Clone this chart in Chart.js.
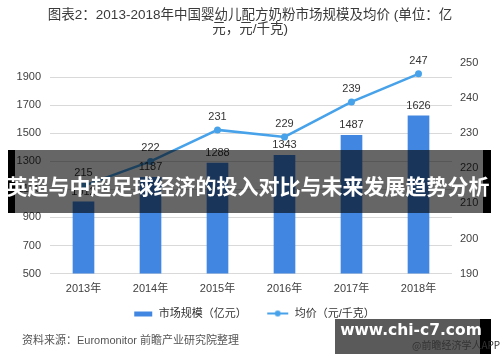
<!DOCTYPE html>
<html>
<head>
<meta charset="utf-8">
<script src="https://cdn.jsdelivr.net/npm/chart.js@4"></script>
<style>
  html, body { margin: 0; padding: 0; background: #fff; }
  #wrap { width: 500px; height: 362px; position: relative; }
</style>
</head>
<body>
<div id="wrap"><canvas id="chart"></canvas></div>
<script>
const YEARS = ['2013年', '2014年', '2015年', '2016年', '2017年', '2018年'];
const MARKET_SIZE = [1012, 1187, 1288, 1343, 1487, 1626];   // 亿元
const AVG_PRICE = [215, 222, 231, 229, 239, 247];           // 元/千克
const LEFT_TICKS = [500, 700, 900, 1100, 1300, 1500, 1700, 1900];
const SERIES_NAMES = ['市场规模（亿元）', '均价（元/千克）'];

const FONT = "'Liberation Sans', 'Noto Sans CJK SC', sans-serif";
const BAR_COLOR = '#4186e0';
const LINE_COLOR = '#47a2ea';

// small images for the legend markers
const makeMarker = (drawFn) => {
  const c = document.createElement('canvas');
  c.width = 28;
  c.height = 10;
  drawFn(c.getContext('2d'));
  return c;
};
const barMarker = makeMarker(ctx => {
  ctx.fillStyle = BAR_COLOR;
  ctx.fillRect(9, 3, 18, 5);
});
const lineMarker = makeMarker(ctx => {
  ctx.strokeStyle = LINE_COLOR;
  ctx.lineWidth = 2;
  ctx.beginPath();
  ctx.moveTo(6, 5);
  ctx.lineTo(27, 5);
  ctx.stroke();
  ctx.fillStyle = LINE_COLOR;
  ctx.beginPath();
  ctx.arc(16.5, 5, 3, 0, Math.PI * 2);
  ctx.fill();
});

// value labels above bars and points
const valueLabels = {
  id: 'valueLabels',
  afterDatasetsDraw(chart) {
    const ctx = chart.ctx;
    ctx.save();
    ctx.font = `11px ${FONT}`;
    ctx.fillStyle = '#333';
    ctx.textAlign = 'center';
    ctx.textBaseline = 'middle';
    chart.data.datasets.forEach((ds, i) => {
      const meta = chart.getDatasetMeta(i);
      const offset = ds.type === 'line' ? 13 : 10;
      meta.data.forEach((el, j) => {
        ctx.fillText(String(ds.data[j]), el.x, el.y - offset);
      });
    });
    ctx.restore();
  }
};

// banner, source note and site watermark over the picture
const overlay = {
  id: 'overlay',
  afterDraw(chart) {
    const ctx = chart.ctx;
    ctx.save();

    ctx.font = `11px ${FONT}`;
    ctx.fillStyle = '#555';
    ctx.textAlign = 'left';
    ctx.textBaseline = 'middle';
    ctx.fillText('资料来源：Euromonitor 前瞻产业研究院整理', 22, 341);

    // banner
    ctx.fillStyle = 'rgba(0,0,0,0.6)';
    ctx.fillRect(15, 150, 468, 63);
    ctx.fillStyle = '#000';
    ctx.fillRect(8, 150, 7, 63);
    ctx.fillRect(483, 150, 8, 63);
    ctx.font = `bold 21px 'Noto Sans CJK SC', sans-serif`;
    ctx.fillStyle = '#fff';
    ctx.textAlign = 'center';
    ctx.fillText('英超与中超足球经济的投入对比与未来发展趋势分析', 248, 186);

    // watermark box
    ctx.fillStyle = '#5a5a5a';
    ctx.fillRect(335, 319, 146, 35);
    ctx.fillStyle = '#000';
    ctx.fillRect(480, 319, 11, 35);
    ctx.font = `10px 'Noto Sans CJK SC', sans-serif`;
    ctx.fillStyle = '#333';
    ctx.textAlign = 'left';
    ctx.fillText('@前瞻经济学人APP', 412, 345);
    ctx.font = `bold 15.5px 'DejaVu Sans', sans-serif`;
    ctx.fillStyle = '#fff';
    ctx.textAlign = 'center';
    ctx.fillText('www.chi-c7.com', 411, 331);

    ctx.restore();
  }
};

new Chart(document.getElementById('chart'), {
  data: {
    labels: YEARS,
    datasets: [
      {
        type: 'bar',
        label: SERIES_NAMES[0],
        data: MARKET_SIZE,
        yAxisID: 'yLeft',
        backgroundColor: BAR_COLOR,
        barThickness: 21,
        order: 2
      },
      {
        type: 'line',
        label: SERIES_NAMES[1],
        data: AVG_PRICE,
        yAxisID: 'yRight',
        borderColor: LINE_COLOR,
        backgroundColor: LINE_COLOR,
        borderWidth: 2.5,
        pointRadius: 3.5,
        pointBackgroundColor: LINE_COLOR,
        pointBorderWidth: 0,
        tension: 0,
        order: 1
      }
    ]
  },
  options: {
    responsive: true,
    maintainAspectRatio: false,
    animation: false,
    layout: { padding: { top: 2, left: 0, right: 0, bottom: 33 } },
    plugins: {
      title: {
        display: true,
        text: ['图表2：2013-2018年中国婴幼儿配方奶粉市场规模及均价 (单位：亿', '元，元/千克)'],
        color: '#3a3a3a',
        font: { family: FONT, size: 13.5, weight: 'normal', lineHeight: 1.05 },
        padding: { top: 6, bottom: 27 }
      },
      legend: {
        position: 'bottom',
        labels: {
          usePointStyle: true,
          pointStyleWidth: 28,
          padding: 14.5,
          color: '#333',
          font: { family: FONT, size: 11 },
          generateLabels: () => [
            { text: SERIES_NAMES[0], pointStyle: barMarker, datasetIndex: 0, hidden: false, fontColor: '#333' },
            { text: SERIES_NAMES[1], pointStyle: lineMarker, datasetIndex: 1, hidden: false, fontColor: '#333' }
          ]
        }
      },
      tooltip: { enabled: false }
    },
    scales: {
      x: {
        grid: { display: false, drawTicks: false },
        border: { display: false },
        ticks: { color: '#404040', font: { family: FONT, size: 11 }, padding: 9 },
        afterFit: scale => { scale.height = 20; }
      },
      yLeft: {
        position: 'left',
        min: 500,
        max: 2000,
        grid: { color: '#d9d9d9', drawTicks: false },
        border: { display: false },
        ticks: { color: '#404040', font: { family: FONT, size: 11 }, padding: 9, callback: v => String(v) },
        afterBuildTicks: scale => { scale.ticks = LEFT_TICKS.map(v => ({ value: v })); },
        afterFit: scale => { scale.width = 50; }
      },
      yRight: {
        position: 'right',
        min: 190,
        max: 250,
        grid: { display: false, drawTicks: false },
        border: { display: false },
        ticks: { stepSize: 10, color: '#404040', font: { family: FONT, size: 11 }, padding: 8 },
        afterFit: scale => { scale.width = 48; }
      }
    }
  },
  plugins: [valueLabels, overlay]
});
</script>
</body>
</html>
